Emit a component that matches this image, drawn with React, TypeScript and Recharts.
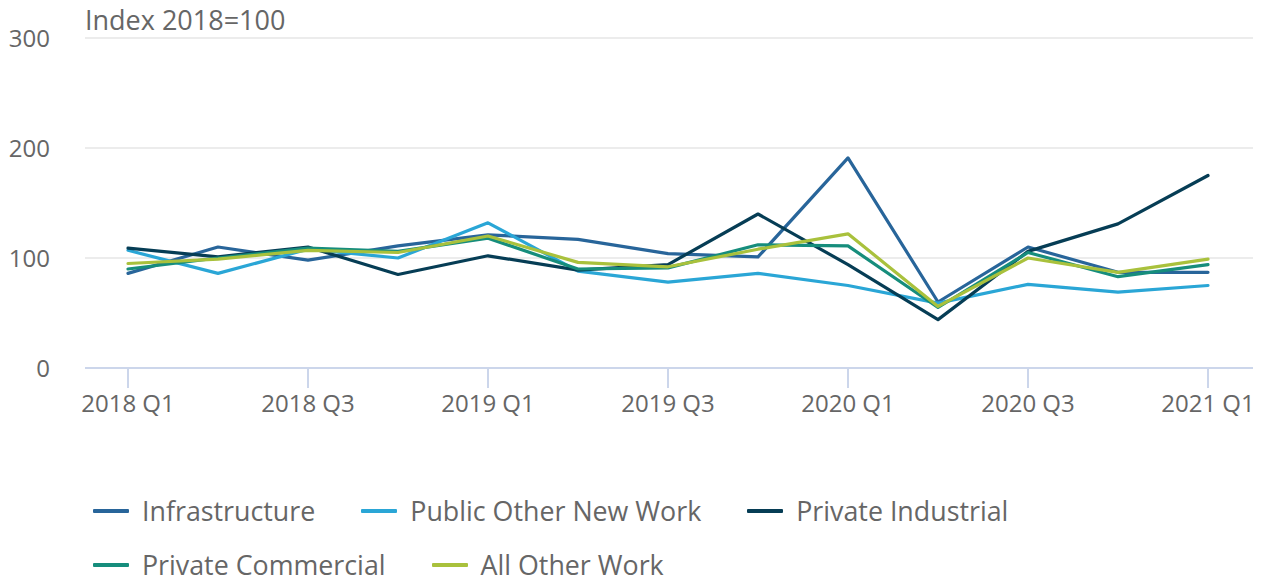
import React from 'react';
import { LineChart, Line, XAxis, YAxis, CartesianGrid } from 'recharts';

const categories = ['2018 Q1','2018 Q2','2018 Q3','2018 Q4','2019 Q1','2019 Q2','2019 Q3','2019 Q4','2020 Q1','2020 Q2','2020 Q3','2020 Q4','2021 Q1'];
const infrastructure = [86, 110, 98, 111, 121, 117, 104, 101, 191, 60, 110, 87, 87];
const publicOtherNewWork = [107, 86, 108, 100, 132, 88, 78, 86, 75, 59, 76, 69, 75];
const privateIndustrial = [109, 101, 110, 85, 102, 89, 94, 140, 94, 44, 106, 131, 175];
const privateCommercial = [90, 100, 109, 106, 118, 90, 91, 112, 111, 55, 105, 83, 94];
const allOtherWork = [95, 99, 107, 105, 120, 96, 92, 108, 122, 56, 100, 87, 99];
const yTicks = [0, 100, 200, 300];

const series = [
  { key: 'infrastructure', name: 'Infrastructure', color: '#28659a', values: infrastructure },
  { key: 'publicOther', name: 'Public Other New Work', color: '#2aa6d6', values: publicOtherNewWork },
  { key: 'privateIndustrial', name: 'Private Industrial', color: '#063d55', values: privateIndustrial },
  { key: 'privateCommercial', name: 'Private Commercial', color: '#168d7c', values: privateCommercial },
  { key: 'allOther', name: 'All Other Work', color: '#a9c13c', values: allOtherWork },
];

const data = categories.map((c, i) => {
  const row: Record<string, any> = { category: c };
  series.forEach((s) => { row[s.key] = s.values[i]; });
  return row;
});

const FONT = '"Open Sans", sans-serif';
const TEXT = '#666666';

export default function App() {
  return (
    <div style={{ position: 'absolute', left: 0, top: 0, width: 1262, height: 578, background: '#fff', fontFamily: FONT, overflow: 'hidden' }}>
      <div style={{ position: 'absolute', left: 85, top: 6, fontSize: 27, lineHeight: 1, color: TEXT, whiteSpace: 'nowrap' }}>
        Index 2018=100
      </div>
      <LineChart width={1262} height={440} data={data} margin={{ top: 38, right: 9, left: 0, bottom: 12 }}>
        <CartesianGrid vertical={false} stroke="#e6e6e6" strokeWidth={1.5} />
        <XAxis
          dataKey="category"
          interval={1}
          padding={{ left: 43, right: 45 }}
          tickSize={20}
          tickMargin={7}
          height={60}
          stroke="#ccd6eb"
          axisLine={{ stroke: '#ccd6eb', strokeWidth: 2 }}
          tickLine={{ stroke: '#ccd6eb', strokeWidth: 2 }}
          tick={{ fill: TEXT, fontSize: 24, fontFamily: FONT }}
        />
        <YAxis
          domain={[0, 300]}
          ticks={yTicks}
          width={85}
          axisLine={false}
          tickLine={false}
          tickSize={0}
          tickMargin={35}
          tick={{ fill: TEXT, fontSize: 24, fontFamily: FONT }}
        />
        {series.map((s) => (
          <Line
            key={s.key}
            type="linear"
            dataKey={s.key}
            name={s.name}
            stroke={s.color}
            strokeWidth={3.2}
            dot={false}
            activeDot={false}
            strokeLinejoin="round"
            strokeLinecap="round"
            isAnimationActive={false}
          />
        ))}
      </LineChart>
      <div style={{ position: 'absolute', left: 93, top: 498, width: 1150, display: 'flex', flexWrap: 'wrap', columnGap: 46, rowGap: 28 }}>
        {series.map((s) => (
          <div key={s.key} style={{ display: 'flex', alignItems: 'center', height: 26, lineHeight: '26px' }}>
            <div style={{ width: 36, height: 4, background: s.color, marginRight: 13, borderRadius: 1 }} />
            <span style={{ fontSize: 26.8, color: TEXT, whiteSpace: 'nowrap' }}>{s.name}</span>
          </div>
        ))}
      </div>
    </div>
  );
}
